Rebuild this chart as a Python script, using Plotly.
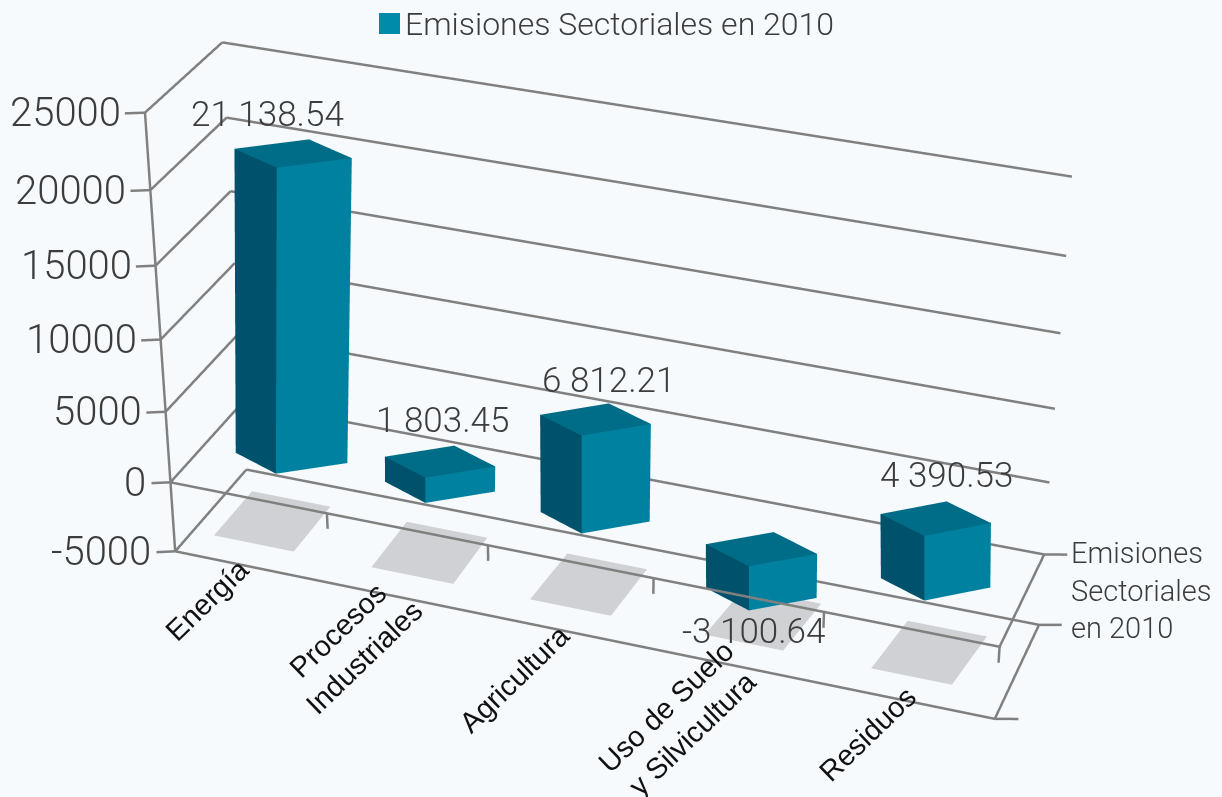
import plotly.graph_objects as go

categories = ["Energía", "Procesos<br>Industriales", "Agricultura", "Uso de Suelo<br>y Silvicultura", "Residuos"]
values = [21138.54, 1803.45, 6812.21, -3100.64, 4390.53]
value_labels = ["21 138.54", "1 803.45", "6 812.21", "-3 100.64", "4 390.53"]
z_ticks = [25000, 20000, 15000, 10000, 5000, 0, -5000]
series_name = "Emisiones Sectoriales en 2010"
depth_label = "Emisiones<br>Sectoriales<br>en 2010"

XR, YR, ZR = (-1, 6), (-1, 2), (-8000, 28000)
W, H, TOP = 1222, 3000, -1100   # tall canvas gives the long lens of the reference; the window shows a slice

fig = go.Figure()
GRID = "#808080"

def seg(a, b, width=5):
    fig.add_trace(go.Scatter3d(x=[a[0], b[0]], y=[a[1], b[1]], z=[a[2], b[2]], mode="lines",
                               line=dict(color=GRID, width=width), hoverinfo="skip", showlegend=False))

ZMIN = z_ticks[-1]; ZMAX = z_ticks[0]; N = len(categories)
seg((0, 0, ZMAX), (0, 0, ZMIN))
for z in z_ticks:
    seg((-0.1, -0.047, z), (0, 0, z)); seg((0, 0, z), (0, 1, z)); seg((0, 1, z), (N, 1, z))
seg((0, 0, ZMIN), (N, 0, ZMIN)); seg((N, 0, ZMIN), (N, 1, ZMIN))
seg((0, 0, 0), (N, 0, 0)); seg((N, 0, 0), (N, 1, 0))
for i in range(1, N + 1):
    seg((i, 0, 0), (i, 0, -1100))
for a in [(N, 1, 0), (N, 1, ZMIN), (N, 0, ZMIN)]:
    seg(a, (a[0] + 0.123, a[1] + 0.044, a[2]))

SIDE = "#00516b"; FRONT = "#00819f"; TOPC = "#006d88"; SHADOW = "#d0d1d4"
FP = [(-0.01, -0.197), (0.31, 0.06), (0.01, 0.197), (-0.31, -0.06)]  # front, right, back, left
FLAT = dict(ambient=1, diffuse=0, specular=0, fresnel=0)
faces = [(0, 1, 2), (0, 2, 3), (4, 5, 6), (4, 6, 7), (0, 1, 5), (0, 5, 4), (1, 2, 6), (1, 6, 5), (2, 3, 7), (2, 7, 6), (3, 0, 4), (3, 4, 7)]
cols = [TOPC] * 4 + [FRONT] * 4 + [SIDE] * 4
bar_nudge = [0.05, 0, -0.033, -0.025, 0]
bar_scale = [1.08, 1.04, 1.01, 1.01, 0.97]
LEAN = 2.38e-6      # keeps bar edges upright on screen, as in the reference
shadow_near = [-0.02, 0, 0, 0.07, 0.06]
shadow_far = [-0.02, 0, 0.03, 0.13, 0.12]
shadow_w = [0.52, 0.52, 0.5, 0.47, 0.47]
for i, v in enumerate(values):
    cx = i + 0.5 + bar_nudge[i]; cy = 0.5
    base_x = [cx + a * bar_scale[i] for a, b in FP]
    tip_x = [x + v * (2.6 - cx) * LEAN for x in base_x]
    ys = [cy + b for a, b in FP] * 2
    if v > 0:
        xs = base_x + tip_x; zs = [0] * 4 + [v] * 4
    else:
        xs = tip_x + base_x; zs = [v] * 4 + [0] * 4
    fig.add_trace(go.Mesh3d(x=xs, y=ys, z=zs, i=[t[0] for t in faces], j=[t[1] for t in faces], k=[t[2] for t in faces],
                            facecolor=cols, flatshading=True, lighting=FLAT, hoverinfo="skip", showlegend=False))
    n0 = i + 0.16 + shadow_near[i]; f0 = i + 0.16 + shadow_far[i]; w = shadow_w[i]
    fig.add_trace(go.Mesh3d(x=[n0, n0 + w, f0 + w, f0], y=[0.24, 0.24, 0.78, 0.78], z=[ZMIN] * 4, i=[0, 0], j=[1, 2], k=[2, 3],
                            color=SHADOW, flatshading=True, lighting=FLAT, hoverinfo="skip", showlegend=False))

TXT = "#3c3c3c"; FAM = "Roboto"; FAMB = "Liberation Sans"
ann = []
for z in z_ticks:
    ann.append(dict(x=0, y=0, z=z, text=str(z), showarrow=False, xanchor="right", xshift=-22,
                    font=dict(family=FAM, size=40, color=TXT, weight=300)))
val_shift = [(-1, 35), (3, 41), (8, 40), (-11, -38), (7, 44)]
for i, v in enumerate(values):
    ann.append(dict(x=i + 0.5, y=0.5, z=v, text=value_labels[i], showarrow=False, xshift=val_shift[i][0], yshift=val_shift[i][1],
                    font=dict(family=FAM, size=35, color=TXT, weight=300)))
cat_shift = [(-45, -33), (-58, -45), (-56, -47), (-57, -54), (-40, -33)]
for i, c in enumerate(categories):
    ann.append(dict(x=i + 0.5, y=0, z=ZMIN, text=c, showarrow=False, textangle=-44, xshift=cat_shift[i][0], yshift=cat_shift[i][1],
                    font=dict(family=FAMB, size=29, color="#111111")))
ann.append(dict(x=N, y=1, z=0, text=depth_label, showarrow=False, xanchor="left", align="left", xshift=25, yshift=-36,
                font=dict(family=FAM, size=29, color=TXT, weight=300)))

def py(y):
    return 1 - (y - TOP) / H

fig.update_layout(width=W, height=H, margin=dict(l=0, r=0, t=0, b=0), paper_bgcolor="#f6fafd", showlegend=False,
    scene=dict(domain=dict(x=[0, 1], y=[0, 1]), bgcolor="rgba(0,0,0,0)",
        xaxis=dict(visible=False, range=list(XR)), yaxis=dict(visible=False, range=list(YR)), zaxis=dict(visible=False, range=list(ZR)),
        aspectmode="manual", aspectratio=dict(x=2.032, y=0.868, z=1.0), dragmode="orbit",
        camera=dict(eye=dict(x=1.768, y=-4.836, z=2.929), center=dict(x=0.052, y=-0.093, z=0.011), up=dict(x=-0.02, y=0.049, z=1.0)),
        annotations=ann),
    shapes=[dict(type="rect", xref="paper", yref="paper", x0=379 / W, x1=400 / W, y0=py(34), y1=py(13), fillcolor="#008bab", line=dict(width=0))],
    annotations=[dict(xref="paper", yref="paper", x=403 / W, y=py(24), text=series_name, showarrow=False, xanchor="left",
                      font=dict(family=FAM, size=32, color=TXT, weight=300))])
POST = """
document.documentElement.style.overflow='hidden';
document.body.style.overflow='hidden';
document.body.style.margin='0';
var d=document.querySelector('.plotly-graph-div');
d.style.position='absolute';d.style.left='0';d.style.top='%dpx';
""" % TOP
fig.write_html("out.html", post_script=POST, config={"displayModeBar": False})
